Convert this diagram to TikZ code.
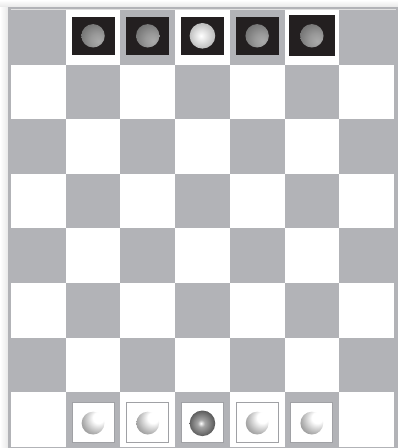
\documentclass[tikz,border=0pt]{standalone}
\definecolor{boardgray}{RGB}{178,179,183}
\definecolor{piecebk}{RGB}{35,31,32}
\definecolor{sqedge}{RGB}{160,161,165}
\pgfdeclareradialshading{grayball}{\pgfpoint{12bp}{-12bp}}{color(0bp)=(black!33); color(15bp)=(black!40); color(45bp)=(black!62); color(68bp)=(black!75); color(80bp)=(black!75)}
\pgfdeclareradialshading{lightball}{\pgfpoint{-3bp}{0bp}}{color(0bp)=(white); color(10bp)=(black!10); color(32bp)=(black!33); color(50bp)=(black!55)}
\pgfdeclareradialshading{whiteball}{\pgfpoint{14bp}{14bp}}{color(0bp)=(white); color(12bp)=(white); color(30bp)=(black!30); color(52bp)=(black!62); color(80bp)=(black!72)}
\pgfdeclareradialshading{darkball}{\pgfpoint{-3bp}{0bp}}{color(0bp)=(white); color(7bp)=(black!35); color(30bp)=(black!72); color(50bp)=(black!90)}
\tikzset{
  blacksq/.style={draw=none, fill=piecebk, inner sep=0pt},
  whitesq/.style={draw=sqedge, line width=1.1pt, fill=white, inner sep=0pt, minimum width=42pt, minimum height=40pt},
}
\begin{document}
\begin{tikzpicture}[x=1pt,y=-1pt]
\useasboundingbox (0,0) rectangle (398,448);
% soft shadow
\shade[top color=white,bottom color=black!9] (0,0) rectangle (398,7);
\shade[left color=white,right color=black!9] (0,7) rectangle (8,448);
% board
\fill[boardgray] (8,7) rectangle (398,448);
\draw[black!12, line width=0.6pt] (10.5,8.8) -- (396,8.8);
\foreach \r in {0,...,7} {
  \foreach \c in {0,...,6} {
    \pgfmathtruncatemacro{\odd}{mod(\r+\c,2)}
    \ifnum\odd=1
      \fill[white] (11+54.7*\c,10+54.6*\r) rectangle ++(54.7,54.6);
    \fi
  }
}
% top pieces
\foreach \c/\w/\h in {1/43/38,2/43/38,3/43/38,4/43/38,5/46/41} {
  \node[blacksq, minimum width=\w pt, minimum height=\h pt] (t\c) at (11+54.7*\c+27.35,35.8) {};
}
\foreach \c in {1,2,4,5} {
  \shade[shading=grayball] (t\c.center) circle[radius=11.7pt];
}
\shade[shading=lightball] (t3.center) circle[radius=12.8pt];
% bottom pieces
\foreach \c in {1,...,5} {
  \node[whitesq] (b\c) at (11+54.7*\c+27.35,422.3) {};
}
\foreach \c in {1,2,4,5} {
  \shade[shading=whiteball] ([yshift=-0.8pt]b\c.center) circle[radius=11.4pt];
}
\shade[shading=darkball] ([yshift=-1pt]b3.center) circle[radius=12.8pt];
\end{tikzpicture}
\end{document}
